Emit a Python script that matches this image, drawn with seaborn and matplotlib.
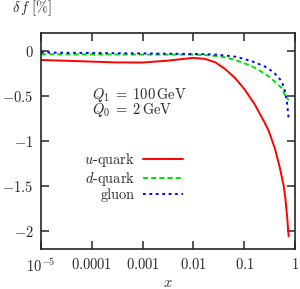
import numpy as np
import pandas as pd
import matplotlib
matplotlib.use("Agg")
import matplotlib.pyplot as plt
import seaborn as sns
from matplotlib.ticker import FixedLocator, FixedFormatter, NullLocator

# ---- data ----
x_vals = [1e-5, 3e-5, 1e-4, 3e-4, 1e-3, 3e-3, 0.01, 0.017, 0.027, 0.042, 0.066,
          0.1, 0.16, 0.25, 0.3, 0.4, 0.5, 0.55, 0.6, 0.65, 0.7, 0.75]
u_quark = [-0.100, -0.108, -0.118, -0.127, -0.128, -0.108, -0.076, -0.088, -0.126,
           -0.20, -0.30, -0.42, -0.59, -0.79, -0.88, -1.08, -1.29, -1.40, -1.50,
           -1.65, -1.84, -2.06]
d_quark = [-0.035, -0.037, -0.038, -0.039, -0.040, -0.040, -0.040, -0.045, -0.055,
           -0.07, -0.10, -0.135, -0.185, -0.25, -0.28, -0.34, -0.39, -0.41, -0.46,
           -0.50, -0.52, -0.55]
gluon = [-0.015, -0.020, -0.022, -0.025, -0.027, -0.030, -0.033, -0.035, -0.040,
         -0.050, -0.063, -0.088, -0.125, -0.17, -0.195, -0.25, -0.31, -0.34, -0.40,
         -0.47, -0.59, -0.75]
series_labels = [r"$u$-quark", r"$d$-quark", "gluon"]
x_ticks = [1e-5, 1e-4, 1e-3, 1e-2, 1e-1, 1]
x_ticklabels = [r"$10^{-5}$", r"$0.0001$", r"$0.001$", r"$0.01$", r"$0.1$", r"$1$"]
y_ticks = [0, -0.5, -1, -1.5, -2]
y_ticklabels = [r"$0$", r"$-0.5$", r"$-1$", r"$-1.5$", r"$-2$"]

sns.set_style("ticks")
plt.rcParams["font.family"] = ["cmr10"]
plt.rcParams["mathtext.fontset"] = "cm"
plt.rcParams["axes.formatter.use_mathtext"] = True
FS = 10.4

fig = plt.figure(figsize=(3.0, 2.89), dpi=100)
ax = fig.add_axes([41/300, 1-249/289, 254/300, 216/289])

styles = [("#ff0000", "-", None), ("#00e000", "--", (2.6, 1.6)), ("#0000ff", ":", (1.4, 1.9))]
for vals, lab, (col, ls, dash) in zip([u_quark, d_quark, gluon], series_labels, styles):
    df = pd.DataFrame({"x": x_vals, "y": vals})
    sns.lineplot(data=df, x="x", y="y", ax=ax, color=col, lw=1.4, label=lab)
    if dash is not None:
        ax.lines[-1].set_dashes(dash)

ax.set_xscale("log")
ax.set_xlim(1e-5, 1)
ax.set_ylim(-2.2, 0.2)
ax.xaxis.set_major_locator(FixedLocator(x_ticks))
ax.xaxis.set_major_formatter(FixedFormatter(x_ticklabels))
ax.xaxis.set_minor_locator(NullLocator())
ax.yaxis.set_major_locator(FixedLocator(y_ticks))
ax.yaxis.set_major_formatter(FixedFormatter(y_ticklabels))
ax.tick_params(direction="in", length=6, width=1.1, top=True, right=True,
               labelsize=FS, pad=5.5)
ax.tick_params(axis="x", pad=6)
for s in ax.spines.values():
    s.set_visible(True)
    s.set_linewidth(1.2)

ax.set_xlabel(r"$x$", fontsize=FS, labelpad=1)
ax.set_ylabel("")
fig.text(12/300, 1-12.5/289, r"$\delta\, f\;[\%]$", fontsize=FS, ha="left", va="baseline")

ax.text(0.2, 0.694, r"$Q_1 \;=\; 100\,\mathrm{GeV}$", transform=ax.transAxes,
        fontsize=FS, va="baseline", ha="left")
ax.text(0.2, 0.624, r"$Q_0 \;=\; 2\,\mathrm{GeV}$", transform=ax.transAxes,
        fontsize=FS, va="baseline", ha="left")

ax.legend(loc="center right", bbox_to_anchor=(0.56, 0.335), frameon=False,
          markerfirst=False, fontsize=FS, handlelength=2.8, handletextpad=0.55,
          borderpad=0, borderaxespad=0, labelspacing=0.05)

fig.savefig("out.png", dpi=100)
